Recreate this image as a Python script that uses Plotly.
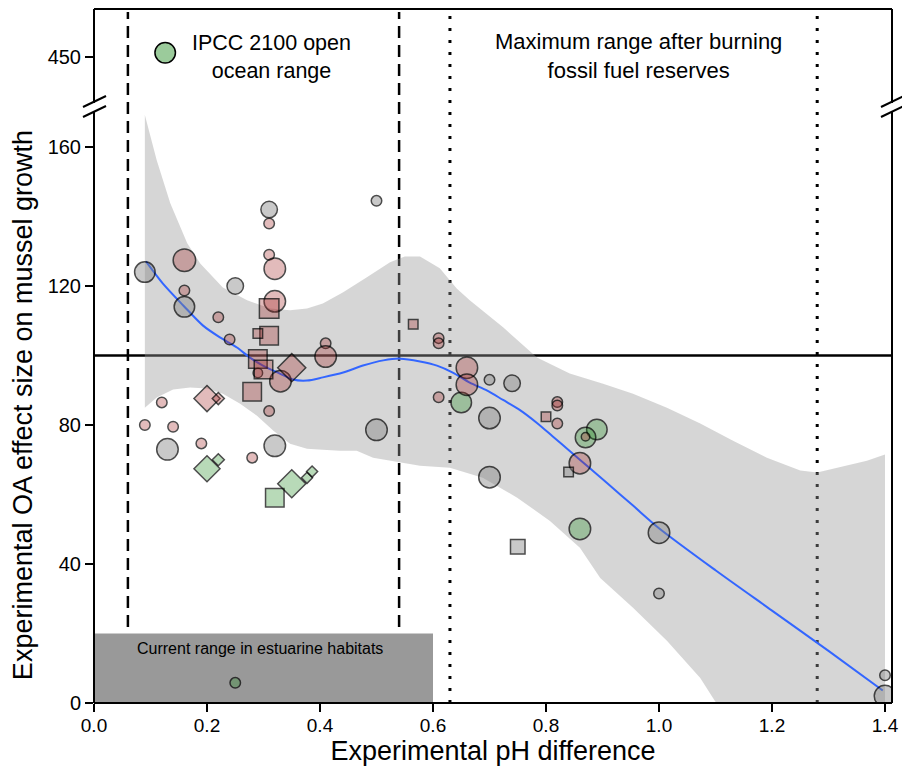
import plotly.graph_objects as go

# ---------------- data ----------------
# red (pink) circles
red_circ_x = [0.16, 0.16, 0.22, 0.24, 0.12, 0.09, 0.14, 0.19, 0.28, 0.31, 0.31, 0.32, 0.32, 0.41, 0.41,
              0.29, 0.33, 0.31, 0.61, 0.61, 0.61, 0.66, 0.66, 0.82, 0.82, 0.82, 0.87, 0.86]
red_circ_y = [127.4, 118.7, 111.0, 104.6, 86.5, 80.0, 79.5, 74.7, 70.6, 138.0, 129.0, 125.0, 115.6, 103.5, 99.7,
              95.0, 92.6, 84.0, 105.0, 103.5, 88.0, 96.5, 91.6, 86.6, 85.6, 80.4, 76.6, 69.0]
red_circ_s = [24, 12, 12, 12, 12, 12, 12, 12, 12, 12, 12, 23, 23, 12, 23,
              11, 23, 12, 12, 12, 12, 23, 23, 12, 12, 12, 10, 23]

# grey circles
grey_circ_x = [0.09, 0.16, 0.25, 0.13, 0.31, 0.50, 0.32, 0.50, 0.70, 0.74, 0.70, 0.70, 1.00, 1.00, 1.40, 1.40]
grey_circ_y = [124.0, 114.0, 120.0, 73.0, 142.0, 144.5, 74.0, 78.6, 93.0, 92.0, 82.0, 65.0, 49.0, 31.5, 8.0, 2.0]
grey_circ_s = [22, 22, 18, 23, 18, 12, 23, 23, 12, 18, 23, 23, 23, 12, 12, 23]

# green circles
green_circ_x = [0.65, 0.89, 0.87, 0.86, 0.25]
green_circ_y = [86.5, 78.7, 76.4, 50.1, 5.8]
green_circ_s = [22, 22, 22, 23, 12]

# red squares
red_sq_x = [0.31, 0.31, 0.29, 0.29, 0.30, 0.28, 0.565, 0.80]
red_sq_y = [113.5, 105.7, 106.3, 99.0, 96.0, 89.6, 109.0, 82.4]
red_sq_s = [21, 20, 11, 20, 20, 20, 11, 11]

# grey squares
grey_sq_x = [0.84, 0.75]
grey_sq_y = [66.5, 45.0]
grey_sq_s = [11, 16]

# green squares
green_sq_x = [0.32]
green_sq_y = [59.1]
green_sq_s = [20]

# red diamonds
red_dia_x = [0.20, 0.22, 0.35]
red_dia_y = [87.6, 87.6, 96.5]
red_dia_s = [28, 14, 30]

# green diamonds
green_dia_x = [0.20, 0.22, 0.35, 0.377, 0.386]
green_dia_y = [67.4, 70.0, 63.1, 64.8, 66.6]
green_dia_s = [28, 14, 30, 13, 13]

# smoother fit and confidence band
fit_x = [0.092, 0.122, 0.158, 0.193, 0.223, 0.253, 0.276, 0.299, 0.329, 0.352, 0.377, 0.405, 0.441,
         0.476, 0.512, 0.542, 0.577, 0.607, 0.635, 0.665, 0.696, 0.724, 0.754, 0.784, 0.812, 0.842,
         0.873, 0.908, 0.954, 1.000, 1.100, 1.200, 1.300, 1.396]
fit_y = [127.1, 120.7, 114.4, 108.6, 105.2, 102.3, 99.4, 97.1, 94.8, 93.1, 92.8, 93.7, 95.1,
         97.1, 98.6, 99.1, 98.3, 97.1, 95.1, 92.2, 89.9, 87.2, 84.3, 80.6, 76.7, 72.5,
         68.2, 63.3, 56.8, 50.3, 38.2, 26.6, 15.0, 3.6]

band_up_x = [0.090, 0.111, 0.135, 0.165, 0.188, 0.228, 0.271, 0.312, 0.347, 0.377, 0.405, 0.441, 0.483,
             0.524, 0.550, 0.577, 0.612, 0.642, 0.665, 0.724, 0.784, 0.842, 0.901, 0.954, 1.014, 1.073,
             1.131, 1.191, 1.250, 1.280, 1.308, 1.368, 1.400]
band_up_y = [169.2, 156.2, 143.8, 132.3, 126.5, 119.6, 115.9, 113.5, 113.0, 113.5, 115.0, 118.2, 122.5,
             126.8, 128.5, 128.5, 125.1, 119.3, 115.9, 108.1, 99.4, 94.8, 91.9, 89.0, 85.0, 80.4,
             75.5, 70.6, 66.9, 66.3, 67.4, 69.7, 71.5]
band_lo_x = [0.090, 0.111, 0.140, 0.170, 0.200, 0.228, 0.258, 0.288, 0.317, 0.347, 0.377, 0.405, 0.435,
             0.465, 0.494, 0.524, 0.577, 0.630, 0.688, 0.749, 0.807, 0.860, 0.896, 0.954, 1.014, 1.073,
             1.099, 1.200, 1.300, 1.400]
band_lo_y = [85.0, 87.9, 90.2, 90.8, 90.5, 89.0, 86.2, 82.7, 78.4, 74.6, 73.2, 72.9, 72.6,
             72.6, 70.6, 69.7, 68.3, 67.7, 64.8, 59.1, 52.4, 44.7, 36.0, 27.4, 17.9, 7.2,
             0.6, -20.0, -40.0, -60.0]

# reference lines / ranges
ipcc_range = [0.06, 0.54]
fossil_range = [0.63, 1.28]
estuary_range = [0.0, 0.6]
estuary_height = 20
null_effect = 100

x_ticks = [0.0, 0.2, 0.4, 0.6, 0.8, 1.0, 1.2, 1.4]
x_ticktext = ["0.0", "0.2", "0.4", "0.6", "0.8", "1.0", "1.2", "1.4"]
y_ticks = [0, 40, 80, 120, 160]
y2_ticks = [450]

legend_x = [0.126]
legend_y = [451.2]

# ---------------- styles ----------------
RED = "rgba(165,42,42,0.45)"
GREY = "rgba(128,128,128,0.6)"
GREEN = "rgba(34,139,34,0.45)"
FONT = "Liberation Sans, Arial, Helvetica, sans-serif"
LW = 1.5

fig = go.Figure()

# confidence band
fig.add_trace(go.Scatter(
    x=band_up_x + band_lo_x[::-1], y=band_up_y + band_lo_y[::-1],
    fill="toself", fillcolor="rgba(153,153,153,0.4)", line=dict(width=0),
    mode="lines", hoverinfo="skip", showlegend=False))

# smoother line
fig.add_trace(go.Scatter(x=fit_x, y=fit_y, mode="lines",
                         line=dict(color="#3366FF", width=2, shape="spline", smoothing=0.8),
                         showlegend=False))


def add_points(xs, ys, ss, color, symbol):
    sizes = [s / 1.3 - LW if symbol == "diamond" else s - LW for s in ss]
    fig.add_trace(go.Scatter(x=xs, y=ys, mode="markers", showlegend=False,
                             marker=dict(symbol=symbol, size=sizes, color=color,
                                         line=dict(color="black", width=LW))))


add_points(grey_circ_x, grey_circ_y, grey_circ_s, GREY, "circle")
add_points(green_circ_x, green_circ_y, green_circ_s, GREEN, "circle")
add_points(red_circ_x, red_circ_y, red_circ_s, RED, "circle")
add_points(grey_sq_x, grey_sq_y, grey_sq_s, GREY, "square")
add_points(green_sq_x, green_sq_y, green_sq_s, GREEN, "square")
add_points(red_sq_x, red_sq_y, red_sq_s, RED, "square")
add_points(green_dia_x, green_dia_y, green_dia_s, GREEN, "diamond")
add_points(red_dia_x, red_dia_y, red_dia_s, RED, "diamond")

# legend-like marker in upper (broken) segment
fig.add_trace(go.Scatter(x=legend_x, y=legend_y, yaxis="y2", mode="markers", showlegend=False,
                         marker=dict(symbol="circle", size=22 - LW, color=GREEN,
                                     line=dict(color="black", width=LW))))

# ---------------- geometry (page has an 8px body margin) ----------------
OFF = 8
W, H = 910 - 2 * OFF, 774 - 2 * OFF
plot_left, plot_right, plot_top, plot_bottom = 94, 892, 9, 703   # screen pixels
ML = plot_left - OFF
MR = W - (plot_right - OFF)
MT = plot_top - OFF
MB = H - (plot_bottom - OFF)
PW = plot_right - plot_left
PH = plot_bottom - plot_top
px_per_x = 565.0
x_max = PW / px_per_x
y_break = 107            # screen row of axis break
px_per_y = 3.475
y450 = 57                # screen row of the 450 tick
low_top_frac = (plot_bottom - y_break) / PH
low_top_val = (plot_bottom - y_break) / px_per_y
up_bot_val = 450 - (y_break - y450) / px_per_y
up_top_val = 450 + (y450 - plot_top) / px_per_y


def fy(screen_y):
    return (plot_bottom - screen_y) / PH


shapes = []
shapes.append(dict(type="rect", xref="x", yref="y", x0=estuary_range[0], x1=estuary_range[1],
                   y0=0, y1=estuary_height, fillcolor="#999999", line=dict(width=0), layer="below"))
for xv in ipcc_range:
    shapes.append(dict(type="line", xref="x", yref="paper", x0=xv, x1=xv, y0=0, y1=fy(12),
                       line=dict(color="black", width=2.5, dash="12px,7px"), layer="below"))
for xv in fossil_range:
    shapes.append(dict(type="line", xref="x", yref="paper", x0=xv, x1=xv, y0=0, y1=fy(12),
                       line=dict(color="black", width=3, dash="3px,9px"), layer="below"))
shapes.append(dict(type="line", xref="paper", yref="y", x0=0, x1=1, y0=null_effect, y1=null_effect,
                   line=dict(color="black", width=2.5), layer="below"))

box = dict(color="black", width=2)
gap_lo = fy(y_break + 5)
gap_hi = fy(y_break - 4)
shapes += [
    dict(type="line", xref="paper", yref="paper", x0=0, x1=1, y0=0, y1=0, line=box),
    dict(type="line", xref="paper", yref="paper", x0=0, x1=1, y0=1, y1=1, line=box),
    dict(type="line", xref="paper", yref="paper", x0=0, x1=0, y0=0, y1=gap_lo, line=box),
    dict(type="line", xref="paper", yref="paper", x0=0, x1=0, y0=gap_hi, y1=1, line=box),
    dict(type="line", xref="paper", yref="paper", x0=1, x1=1, y0=0, y1=gap_lo, line=box),
    dict(type="line", xref="paper", yref="paper", x0=1, x1=1, y0=gap_hi, y1=1, line=box),
]
for xe in (0, 1):
    for cy in (y_break - 5, y_break + 5):
        shapes.append(dict(type="line", xref="paper", yref="paper",
                           x0=xe - 11 / PW, x1=xe + 12 / PW,
                           y0=fy(cy + 5), y1=fy(cy - 6),
                           line=dict(color="black", width=2)))

annotations = [
    dict(x=0.315, y=450, xref="x", yref="y2", text="IPCC 2100 open<br>ocean range", showarrow=False,
         font=dict(size=21.5, color="black", family=FONT), align="center"),
    dict(x=0.964, y=450.3, xref="x", yref="y2", text="Maximum range after burning<br>fossil fuel reserves",
         showarrow=False, font=dict(size=22, color="black", family=FONT), align="center"),
    dict(x=0.294, y=15.8, xref="x", yref="y", text="Current range in estuarine habitats", showarrow=False,
         font=dict(size=16, color="black", family=FONT)),
]

fig.update_layout(
    width=W, height=H,
    margin=dict(l=ML, r=MR, t=MT, b=MB, autoexpand=False),
    paper_bgcolor="white", plot_bgcolor="white",
    font=dict(family=FONT, color="black"),
    showlegend=False,
    shapes=shapes, annotations=annotations,
    xaxis=dict(range=[0, x_max], tickvals=x_ticks, ticktext=x_ticktext, ticks="outside", ticklen=8,
               tickwidth=2, tickcolor="black", showgrid=False, zeroline=False, showline=False,
               tickfont=dict(size=19, family=FONT), ticklabelstandoff=-3,
               title=dict(text="Experimental pH difference", font=dict(size=27, family=FONT), standoff=5)),
    yaxis=dict(domain=[0, low_top_frac], range=[0, low_top_val], tickvals=y_ticks, ticks="outside",
               ticklen=8, tickwidth=2, tickcolor="black", showgrid=False, zeroline=False, showline=False,
               tickfont=dict(size=20, family=FONT),
               title=dict(text="Experimental OA effect size on mussel growth",
                          font=dict(size=27, family=FONT), standoff=14)),
    yaxis2=dict(domain=[low_top_frac, 1], range=[up_bot_val, up_top_val], tickvals=y2_ticks, anchor="x",
                ticks="outside", ticklen=8, tickwidth=2, tickcolor="black", showgrid=False, zeroline=False,
                showline=False, tickfont=dict(size=20, family=FONT)),
)

fig.write_html("out.html")
